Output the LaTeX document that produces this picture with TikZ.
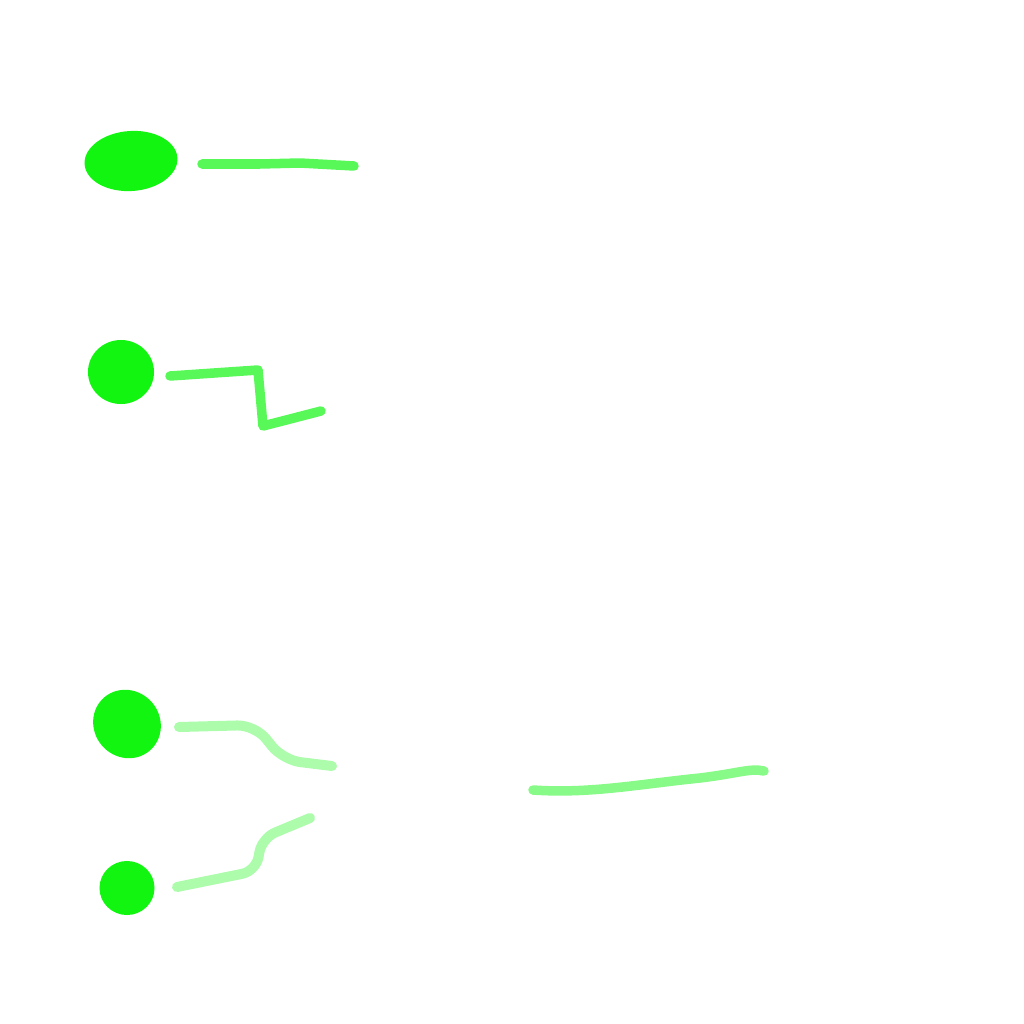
\documentclass[tikz,border=0pt]{standalone}
\usepackage{tikz}
\usetikzlibrary{positioning, shapes.geometric}

\definecolor{sketchgreen}{RGB}{17,245,17}

\begin{document}
\begin{tikzpicture}[x=0.01cm,y=-0.01cm,
        blob/.style={ellipse, fill=sketchgreen, draw=none, inner sep=0pt},
        stroke/.style={draw=sketchgreen, line width=0.095cm, line cap=round, line join=round, opacity=0.7},
        faint/.style={stroke, line width=0.1cm, opacity=0.35}]

        \useasboundingbox (0,0) rectangle (1024,1024);

        % the four blobs
        \node[blob, minimum width=0.93cm, minimum height=0.6cm, rotate=4] (b_1) at (131,161) {};
        \node[blob, minimum width=0.66cm, minimum height=0.64cm]          (b_2) at (121,372) {};
        \node[blob, minimum width=0.66cm, minimum height=0.7cm, rotate=40] (b_3) at (127,724) {};
        \node[blob, minimum width=0.55cm, minimum height=0.54cm]          (b_4) at (127,888) {};

        % stroke ends
        \coordinate (s_1a) at (202,164);
        \coordinate (s_1b) at (354,166);
        \coordinate (s_2a) at (170,376);
        \coordinate (s_2b) at (321,411);
        \coordinate (s_3a) at (179,727);
        \coordinate (s_3b) at (332,766);
        \coordinate (s_4a) at (177,887);
        \coordinate (s_4b) at (310,818);
        \coordinate (s_5a) at (533,790);
        \coordinate (s_5b) at (764,771);

        \draw[stroke] (s_1a) -- (260,164) -- (300,163) -- (s_1b);
        \draw[stroke] (s_2a) -- (258,370) -- (263,426) -- (s_2b);
        \draw[faint, rounded corners=5] (s_3a) -- (255,725) -- (283,760) -- (s_3b);
        \draw[faint, rounded corners=4] (s_4a) -- (256,871) -- (262,838) -- (s_4b);
        \draw[stroke, opacity=0.5] (s_5a) .. controls (590,794) and (640,784) .. (700,778)
            .. controls (740,773) and (750,768) .. (s_5b);
    \end{tikzpicture}
\end{document}
